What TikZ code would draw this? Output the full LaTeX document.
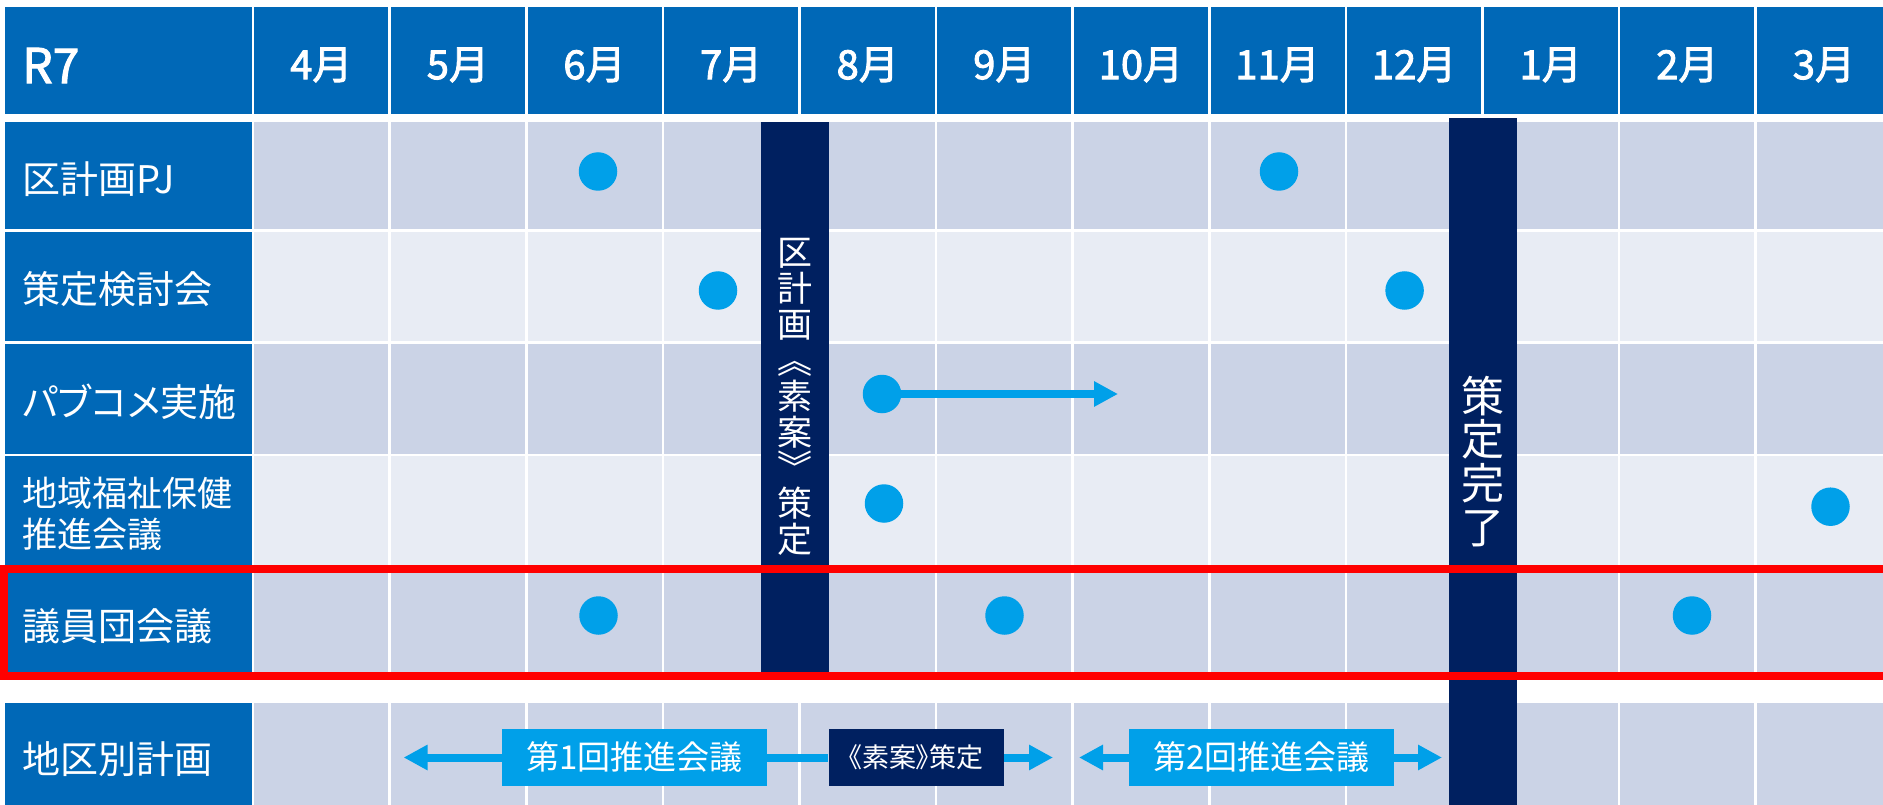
\documentclass[tikz,border=0pt]{standalone}
\usepackage{fontspec}
\newfontfamily\jp{Noto Sans CJK JP}
\newfontfamily\jph[FakeBold=2.2]{Noto Sans CJK JP}
\newfontfamily\jpp[RawFeature=+palt]{Noto Sans CJK JP}
\usetikzlibrary{arrows.meta}
\definecolor{hdrblue}{HTML}{0068B7}
\definecolor{cdark}{HTML}{CBD3E6}
\definecolor{clight}{HTML}{E8ECF4}
\definecolor{dotc}{HTML}{00A0E9}
\definecolor{navy}{HTML}{002060}
\definecolor{redc}{HTML}{FF0000}
\begin{document}
\begin{tikzpicture}[x=1pt,y=-1pt,
  hdrtxt/.style={text=white,inner sep=0pt,font=\jph\fontsize{40}{48}\selectfont},
  lab/.style={text=white,inner sep=0pt,anchor=west,align=left,font=\jpp\fontsize{38}{46}\selectfont},
  dot/.style={circle,fill=dotc,minimum size=38.5pt,inner sep=0pt},
  bar/.style={fill=navy,text=white,minimum width=68pt,inner sep=0pt,align=center},
  arrowline/.style={draw=dotc,line width=8pt},
  tipc/.style={-{Triangle[length=24pt,width=24pt]}},
  boxc/.style={fill=dotc,text=white,inner sep=0pt,minimum width=265pt,minimum height=56.7pt,font=\jp\fontsize{33}{40}\selectfont},
  boxn/.style={fill=navy,text=white,inner sep=0pt,minimum width=175.4pt,minimum height=57.7pt,font=\jpp\fontsize{27}{32}\selectfont}
]
\useasboundingbox (0,0) rectangle (1883,805);
\clip (0,0) rectangle (1883,805);
\fill[white] (0,0) rectangle (1883,805);

% header row
\fill[hdrblue] (4.5,6.7) rectangle (251.5,114.3);
\foreach \i in {0,...,11}
  \fill[hdrblue] ({254.3+136.6*\i},6.7) rectangle ({254.3+136.6*\i+134},114.3);

% body rows
\foreach \top/\bot/\col in {122.3/229.2/cdark, 231.7/341.3/clight, 343.9/453.6/cdark, 456.2/566/clight, 568.6/672/cdark, 703.3/810/cdark}{
  \fill[hdrblue] (4.5,\top) rectangle (251.5,\bot);
  \foreach \i in {0,...,11}
    \fill[\col] ({254.3+136.6*\i},\top) rectangle ({254.3+136.6*\i+134},\bot);
}

% header texts
\node[hdrtxt,anchor=west,font=\jph\fontsize{48}{56}\selectfont] (r7) at (22,65.5) {R7};
\foreach \m [count=\i from 0] in {4,5,6,7,8,9,10,11,12,1,2,3}
  \node[hdrtxt] (m\i) at ({254.3+136.6*\i+67},65) {{\m}月};

% row labels
\node[lab] (l1) at (22,179.5) {区計画PJ};
\node[lab] (l2) at (22,289) {策定検討会};
\node[lab] (l3) at (22,402) {パブコメ実施};
\node[lab,font=\jpp\fontsize{35}{41.3}\selectfont] (l4) at (22,513.5) {地域福祉保健\\推進会議};
\node[lab] (l5) at (22,625.7) {議員団会議};
\node[lab] (l6) at (22,759.5) {地区別計画};

% vertical bars
\node[bar,minimum height=550pt,font=\jp\fontsize{35}{35.9}\selectfont] (bar1) at (795,397)
  {区\\計\\画\\︽\\素\\案\\︾\\策\\定};
\node[bar,minimum height=687.3pt,font=\jp\fontsize{43}{43.7}\selectfont] (bar2) at (1483.25,461.35)
  {策\\定\\完\\了};

% red frame
\draw[redc,line width=8.3pt] (3.5,569.2) rectangle (1900,675.8);

% dots
\node[dot] (d1) at (598,171.5) {};
\node[dot] (d2) at (1279,171.5) {};
\node[dot] (d3) at (718,290.5) {};
\node[dot] (d4) at (1404.6,290.5) {};
\node[dot] (d5) at (882,394) {};
\node[dot] (d6) at (884,503.5) {};
\node[dot] (d7) at (1830.5,506.7) {};
\node[dot] (d8) at (598.5,615.5) {};
\node[dot] (d9) at (1004.5,615.5) {};
\node[dot] (d10) at (1692,615.5) {};

% pubcom arrow
\coordinate (a3end) at (1118,394);
\draw[arrowline,tipc] (d5) -- (a3end);

% district plan row
\node[boxc] (b1) at (634.4,757.5) {第1回推進会議};
\node[boxn] (b2) at (916.3,757.5) {《素案》策定};
\node[boxc] (b3) at (1261.5,757.5) {第2回推進会議};
\coordinate (L1) at (403.6,757.5);
\coordinate (R1) at (1053,757.5);
\coordinate (L2) at (1079,757.5);
\coordinate (R2) at (1442,757.5);
\draw[arrowline,tipc] (b1.west) -- (L1);
\draw[arrowline] (b1.east) -- (b2.west);
\draw[arrowline,tipc] (b2.east) -- (R1);
\draw[arrowline,tipc] (b3.west) -- (L2);
\draw[arrowline,tipc] (b3.east) -- (R2);
\end{tikzpicture}
\end{document}
